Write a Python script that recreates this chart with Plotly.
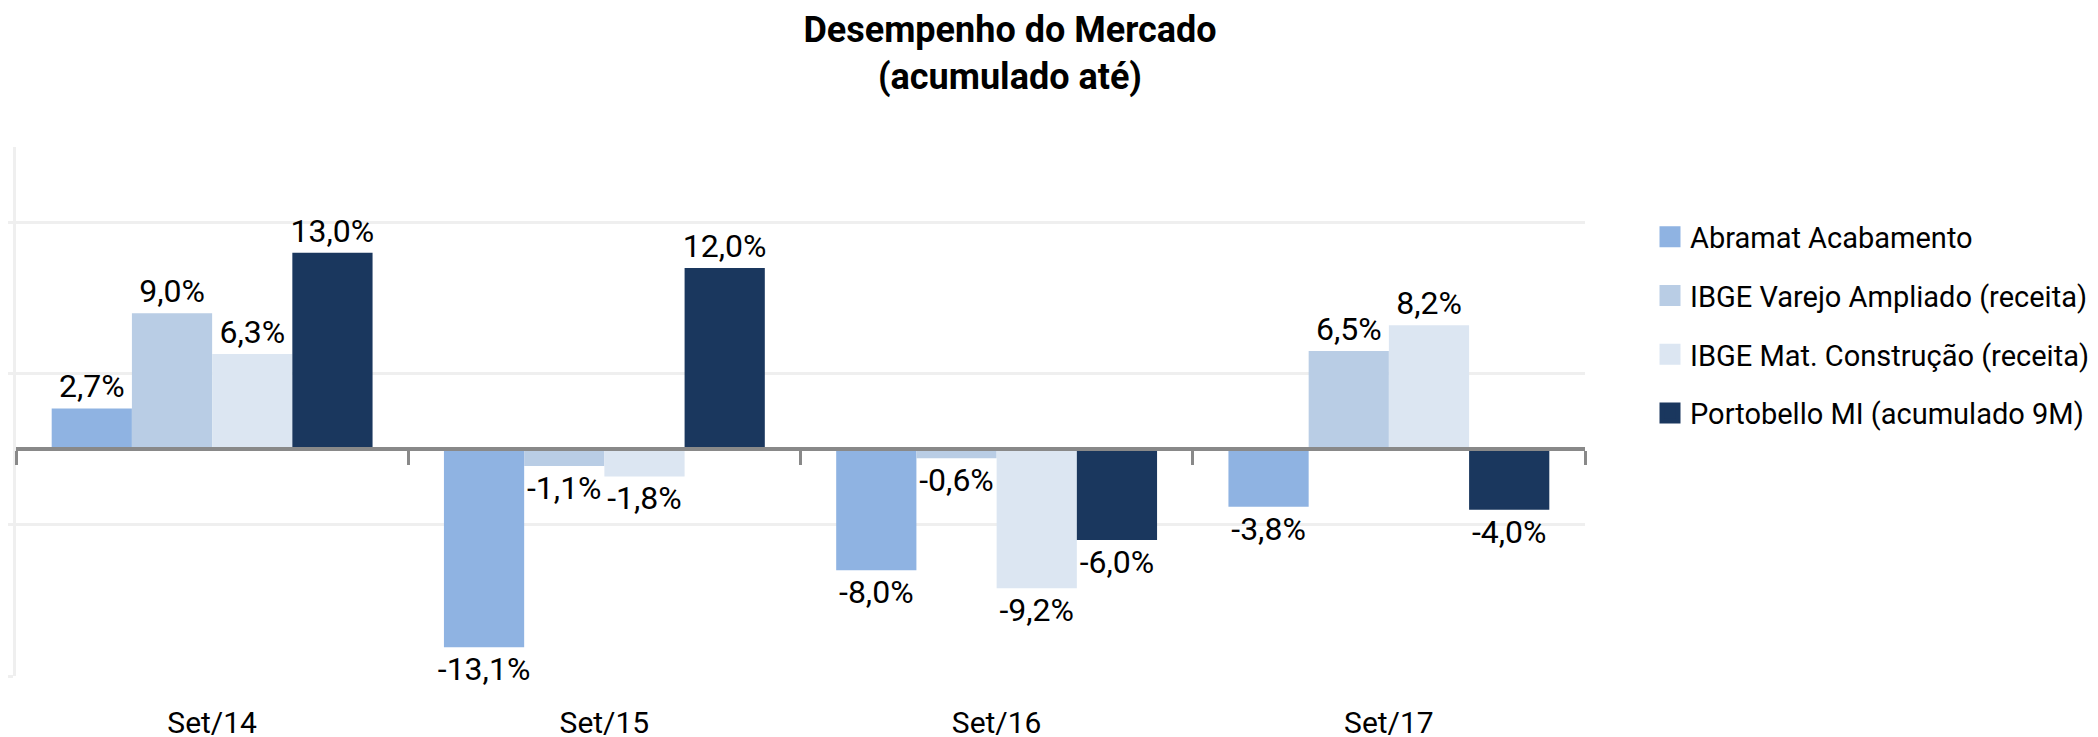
import plotly.graph_objects as go

# ---- data ----
categories = ["Set/14", "Set/15", "Set/16", "Set/17"]
series_names = [
    "Abramat Acabamento",
    "IBGE Varejo Ampliado (receita)",
    "IBGE Mat. Construção (receita)",
    "Portobello MI (acumulado 9M)",
]
abramat = [2.7, -13.1, -8.0, -3.8]
ibge_varejo = [9.0, -1.1, -0.6, 6.5]
ibge_mat = [6.3, -1.8, -9.2, 8.2]
portobello = [13.0, 12.0, -6.0, -4.0]
series_values = [abramat, ibge_varejo, ibge_mat, portobello]
colors = ["#8FB3E2", "#B9CDE5", "#DCE6F2", "#1A375E"]

title_text = "<b>Desempenho do Mercado</b><br><b>(acumulado até)</b>"

FONT = "Roboto, 'Open Sans', sans-serif"
Y_MIN, Y_MAX = -15, 20
W, H = 2098, 737

fig = go.Figure()
for name, vals, col in zip(series_names, series_values, colors):
    fig.add_trace(go.Bar(
        x=categories, y=vals, name=name, marker=dict(color=col, line=dict(width=0)),
        texttemplate="%{y:.1f}%", textposition="outside", cliponaxis=False,
        constraintext="none",
        textfont=dict(family=FONT, size=32, color="#000000"),
        showlegend=False,
    ))
# legend entries with larger square symbols (placed on the overlay axis so it is drawn)
for name, col in zip(series_names, colors):
    fig.add_trace(go.Scatter(
        x=[None], y=[None], mode="markers", name=name, legendgroup=name,
        xaxis="x2",
        marker=dict(symbol="square", size=16, color=col, line=dict(color=col, width=5)),
        showlegend=True, hoverinfo="skip",
    ))

n = len(categories)
boundaries = [i - 0.5 for i in range(n + 1)]
zero_pos = (0 - Y_MIN) / (Y_MAX - Y_MIN)

fig.update_layout(
    width=W, height=H,
    margin=dict(l=8, r=521, t=139, b=69),
    paper_bgcolor="white", plot_bgcolor="white",
    separators=",.",
    barmode="group", bargap=0.182, bargroupgap=0,
    font=dict(family=FONT, size=30, color="#000000"),
    title=dict(text=title_text, x=1002 / W, xanchor="center", xref="container",
               y=1 - 34 / H, yanchor="middle", yref="container",
               font=dict(family=FONT, size=36, color="#000000")),
    xaxis=dict(type="category", showline=False, showgrid=False, zeroline=False,
               automargin=False,
               ticks="outside", ticklen=20, tickcolor="rgba(0,0,0,0)",
               tickfont=dict(family=FONT, size=30, color="#000000"),
               range=[-0.5, n - 0.5]),
    xaxis2=dict(overlaying="x", anchor="free", position=zero_pos, range=[-0.5, n - 0.5],
                automargin=False,
                showticklabels=False, showgrid=False, zeroline=False,
                showline=True, linecolor="#898989", linewidth=4,
                ticks="outside", ticklen=14, tickwidth=3, tickcolor="#898989",
                tickmode="array", tickvals=boundaries),
    yaxis=dict(range=[Y_MIN, Y_MAX], tick0=Y_MIN, dtick=10, showticklabels=False,
               automargin=False,
               showgrid=True, gridcolor="#EFEFEF", gridwidth=3, zeroline=False,
               showline=True, linecolor="#EFEFEF", linewidth=3,
               ticks="outside", ticklen=11, tickwidth=3, tickcolor="#EFEFEF"),
    legend=dict(x=1642 / W, xref="container", xanchor="left",
                y=1 - 317 / H, yref="container", yanchor="middle",
                font=dict(family=FONT, size=29, color="#000000"),
                tracegroupgap=18, itemwidth=30, bgcolor="rgba(0,0,0,0)"),
)

fig.write_html("out.html")
